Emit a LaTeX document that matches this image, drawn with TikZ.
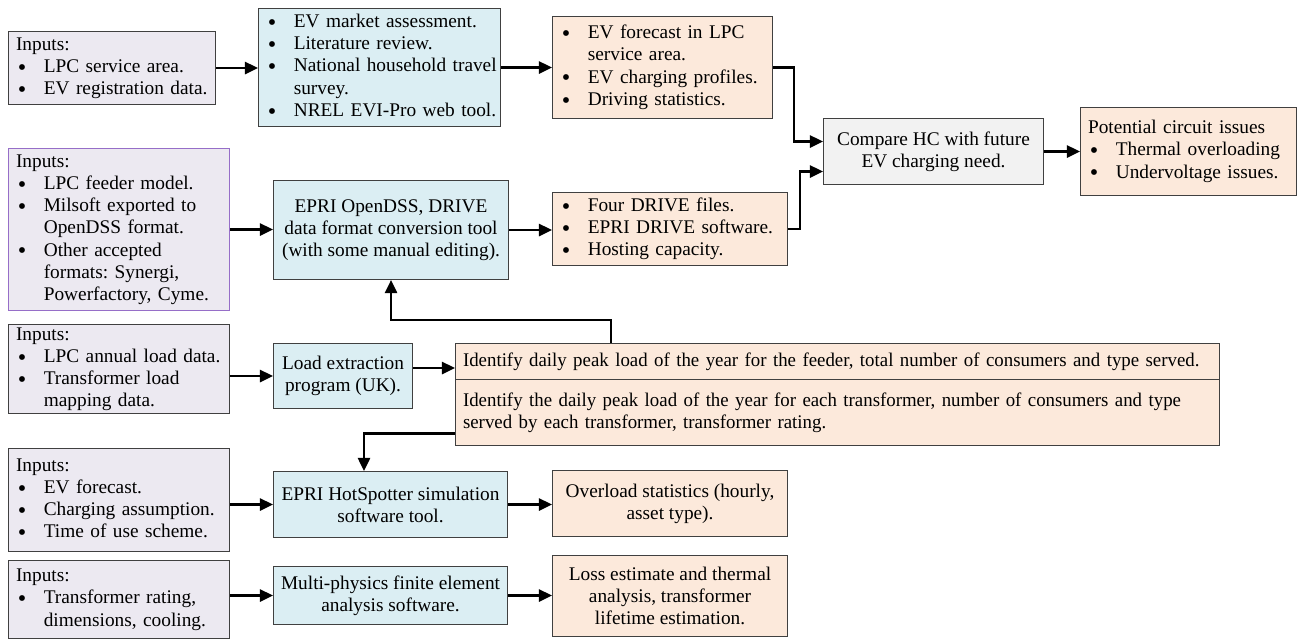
\documentclass[tikz,border=0pt]{standalone}
\usepackage{fontspec}
\setmainfont{Liberation Serif}
\usepackage{xcolor}
\usepackage{graphicx}
\usetikzlibrary{arrows.meta,positioning,calc}
\definecolor{inputfill}{RGB}{236,233,241}
\definecolor{toolfill}{RGB}{219,238,243}
\definecolor{outfill}{RGB}{252,233,219}
\definecolor{cmpfill}{RGB}{242,242,242}
\definecolor{edgegray}{RGB}{64,64,64}
\definecolor{purpleedge}{RGB}{150,110,200}
\frenchspacing
\newcommand{\bul}{\smash{\raisebox{-0.15em}{\scalebox{1.25}{\textbullet}}}}
\newenvironment{bullets}{\begin{tabular}{@{\hspace{1pt}}l@{\hspace{10pt}}l@{}}}{\end{tabular}}
\newcommand{\listhead}[1]{\multicolumn{2}{@{}l@{}}{#1}}

\begin{document}
\begin{tikzpicture}[
  x=0.02cm, y=-0.02cm,
  block/.style={draw=edgegray, line width=0.6pt, anchor=north west, inner xsep=0.15cm, inner ysep=0pt, font=\fontsize{11}{12.6}\selectfont},
  lbox/.style 2 args={block, align=left, text width=#1*0.02cm-0.3cm, minimum height=#2*0.02cm},
  cbox/.style 2 args={block, align=center, minimum width=#1*0.02cm, minimum height=#2*0.02cm},
  inputs/.style={fill=inputfill},
  tool/.style={fill=toolfill},
  result/.style={fill=outfill},
  arrow/.style={-{Triangle[length=7.5pt, width=7pt]}, line width=1.2pt},
]
\useasboundingbox (0,0) rectangle (1301,641);

% Nodes
\node[lbox={207}{73}, inputs] (evinputs) at (8,31) {\begin{bullets}
  \listhead{Inputs:}\\
  \bul & LPC service area.\\
  \bul & EV registration data.
\end{bullets}};
\node[lbox={242}{118}, tool] (evstudy) at (258,8) {\begin{bullets}
  \bul & EV market assessment.\\
  \bul & Literature review.\\
  \bul & National household travel\\
  & survey.\\
  \bul & NREL EVI-Pro web tool.
\end{bullets}};
\node[lbox={220}{102}, result] (evforecast) at (552,16) {\begin{bullets}
  \bul & EV forecast in LPC\\
  & service area.\\
  \bul & EV charging profiles.\\
  \bul & Driving statistics.
\end{bullets}};
\node[cbox={220}{66}, fill=cmpfill] (compare) at (823,118) {Compare HC with future\\EV charging need.};
\node[lbox={216}{88}, result] (issues) at (1080,107) {\begin{bullets}
  \listhead{Potential circuit issues}\\
  \bul & Thermal overloading\\
  \bul & Undervoltage issues.
\end{bullets}};

\node[lbox={221}{162}, inputs, draw=purpleedge] (feeder) at (8,148) {\begin{bullets}
  \listhead{Inputs:}\\
  \bul & LPC feeder model.\\
  \bul & Milsoft exported to\\
  & OpenDSS format.\\
  \bul & Other accepted\\
  & formats: Synergi,\\
  & Powerfactory, Cyme.
\end{bullets}};
\node[cbox={235}{99}, tool] (opendss) at (273,180) {EPRI OpenDSS, DRIVE\\data format conversion tool\\(with some manual editing).};
\node[lbox={235}{73}, result] (hosting) at (552,192) {\begin{bullets}
  \bul & Four DRIVE files.\\
  \bul & EPRI DRIVE software.\\
  \bul & Hosting capacity.
\end{bullets}};

\node[lbox={221}{89}, inputs] (loaddata) at (8,324) {\begin{bullets}
  \listhead{Inputs:}\\
  \bul & LPC annual load data.\\
  \bul & Transformer load\\
  & mapping data.
\end{bullets}};
\node[cbox={139}{65}, tool] (extract) at (273,343) {Load extraction\\program (UK).};
\node[lbox={764}{36}, result, font=\fontsize{11}{12.6}\selectfont\addfontfeature{FakeStretch=0.975}] (peakfeeder) at (455,343) {Identify daily peak load of the year for the feeder, total number of consumers and type served.};
\node[lbox={764}{66}, result, font=\fontsize{11}{12.6}\selectfont\addfontfeature{FakeStretch=0.975}] (peakxfmr) at (455,379) {Identify the daily peak load of the year for each transformer, number of consumers and type\\served by each transformer, transformer rating.};

\node[lbox={221}{103}, inputs] (chargeinputs) at (8,448) {\begin{bullets}
  \listhead{Inputs:}\\
  \bul & EV forecast.\\
  \bul & Charging assumption.\\
  \bul & Time of use scheme.
\end{bullets}};
\node[cbox={234}{66}, tool] (hotspotter) at (273,471) {EPRI HotSpotter simulation\\software tool.};
\node[cbox={235}{66}, result] (overload) at (552,470) {Overload statistics (hourly,\\asset type).};

\node[lbox={221}{78}, inputs] (xfmrinputs) at (8,560) {\begin{bullets}
  \listhead{Inputs:}\\
  \bul & Transformer rating,\\
  & dimensions, cooling.
\end{bullets}};
\node[cbox={234}{58}, tool] (fea) at (273,566) {Multi-physics finite element\\analysis software.};
\node[cbox={235}{81}, result] (lifetime) at (552,555) {Loss estimate and thermal\\analysis, transformer\\lifetime estimation.};

% Arrows
\draw[arrow] (evinputs.east) -- (evinputs.east -| evstudy.west);
\draw[arrow] (evstudy.east) -- (evstudy.east -| evforecast.west);
\draw[arrow] (evforecast.east) -- ++(21,0) |- ($(compare.west)+(0,-10)$);
\draw[arrow] (hosting.east) -- ++(12,0) |- ($(compare.west)+(0,20)$);
\draw[arrow] (compare.east) -- (compare.east -| issues.west);
\draw[arrow] (feeder.east) -- (feeder.east -| opendss.west);
\draw[arrow] (opendss.east) -- (opendss.east -| hosting.west);
\draw[arrow] ($(peakfeeder.north west)+(156,0)$) -- ++(0,-23) -| (opendss.south);
\draw[arrow] (extract.west -| loaddata.east) -- (extract.west);
\coordinate (jk) at ($(extract.east)+(0,-8)$);
\draw[arrow] (jk) -- (jk -| peakfeeder.west);
\draw[arrow] ($(peakxfmr.west)+(0,21)$) -| ($(hotspotter.north west)+(91,0)$);
\draw[arrow] (hotspotter.west -| chargeinputs.east) -- (hotspotter.west);
\draw[arrow] (hotspotter.east) -- (hotspotter.east -| overload.west);
\draw[arrow] (fea.west -| xfmrinputs.east) -- (fea.west);
\draw[arrow] (fea.east) -- (fea.east -| lifetime.west);
\end{tikzpicture}
\end{document}
